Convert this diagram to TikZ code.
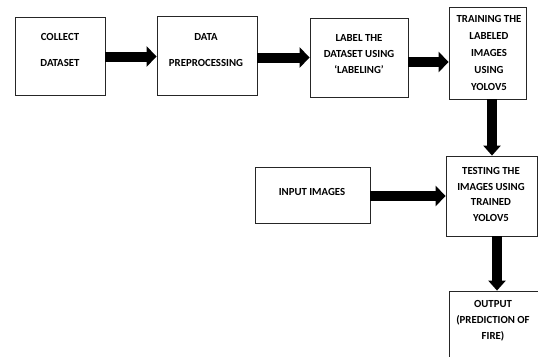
\documentclass[tikz,border=0pt]{standalone}
\usepackage{fontspec}
\setmainfont{Carlito}
\usetikzlibrary{arrows.meta,calc}
\begin{document}
\begin{tikzpicture}[x=1pt,y=-1pt,
  box/.style={draw=black!85,line width=0.8pt,rectangle,inner sep=0pt},
  txt/.style={font=\bfseries\fontsize{10.8}{16}\selectfont,align=center,inner sep=0pt},
  bigarrow/.style={line width=10pt,-{Triangle[length=10pt,width=20pt]}}]
\useasboundingbox[fill=white] (0,0) rectangle (538,356);
% boxes
\node[box,minimum width=90pt,minimum height=78pt] (b1) at (60,56) {};
\node[box,minimum width=100pt,minimum height=79pt] (b2) at (207,55.5) {};
\node[box,minimum width=98pt,minimum height=79pt] (b3) at (359,57.5) {};
\node[box,minimum width=77pt,minimum height=92pt] (b4) at (487.5,53) {};
\node[box,minimum width=91pt,minimum height=80pt] (b5) at (491.5,196) {};
\node[box,minimum width=115pt,minimum height=56pt] (in) at (312.5,195) {};
\node[box,minimum width=101pt,minimum height=79pt] (out) at (499.5,330.5) {};
% texts
\node[txt,font=\bfseries\fontsize{10.8}{26}\selectfont] (t1) at (60,50) {COLLECT\\DATASET};
\node[txt,font=\bfseries\fontsize{10.8}{26}\selectfont] (t2) at (206,50) {DATA\\PREPROCESSING};
\node[txt] (t3) at (359,54) {LABEL THE\\DATASET USING\\‘LABELING’};
\node[txt,font=\bfseries\fontsize{10.8}{17}\selectfont] (t4) at (489,53) {TRAINING THE\\LABELED\\IMAGES\\USING\\YOLOV5};
\node[txt,font=\bfseries\fontsize{10.8}{15.7}\selectfont] (t5) at (491,194.5) {TESTING THE\\IMAGES USING\\TRAINED\\YOLOV5};
\node[txt] (t6) at (312,192) {INPUT IMAGES};
\node[txt] (t7) at (493,321) {OUTPUT\\(PREDICTION OF\\FIRE)};
% arrows
\draw[bigarrow] ([yshift=-0.5pt]b1.east) -- ([yshift=-0.5pt]b1.east -| b2.west);
\draw[bigarrow] (b2.east |- b3.west) -- (b3.west);
\draw[bigarrow] ([yshift=-4.5pt]b3.east) -- ([yshift=-4.5pt]b3.east -| b4.west);
\draw[bigarrow,-{Triangle[length=10pt,width=17pt]}] ([xshift=4.5pt]b4.south) -- ([xshift=4.5pt]b4.south |- b5.north);
\draw[bigarrow] ([yshift=-1pt]in.east) -- ([yshift=-1pt]in.east -| b5.west);
\draw[bigarrow,-{Triangle[length=10pt,width=17pt]}] ([xshift=5.5pt]b5.south) -- ([xshift=5.5pt]b5.south |- out.north);
\end{tikzpicture}
\end{document}
